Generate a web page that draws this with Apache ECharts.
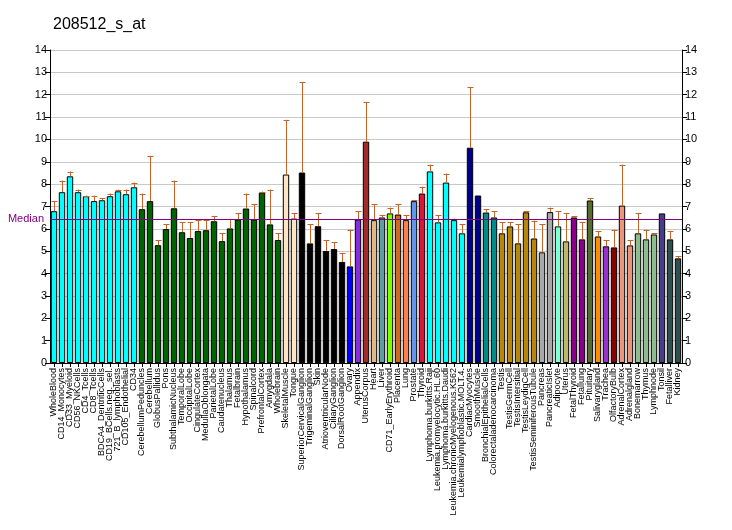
<!DOCTYPE html>
<html>
<head>
<meta charset="utf-8">
<script src="https://cdn.jsdelivr.net/npm/echarts@6/dist/echarts.min.js"></script>
<style>html,body{margin:0;padding:0;background:#fff;}#c{width:732px;height:530px;}</style>
</head>
<body>
<div id="c"></div>
<script>
const categories = ["WholeBlood","CD14_Monocytes","CD33_Myeloid","CD56_NKCells","CD4_Tcells","CD8_Tcells","BDCA4_DentriticCells","CD19_BCells.neg._sel.","721_B_lymphoblasts","CD105_Endothelial","CD34","CerebellumPeduncles","Cerebellum","GlobusPallidus","Pons","SubthalamicNucleus","TemporalLobe","OccipitalLobe","CingulateCortex","MedullaOblongata","ParietalLobe","Caudatenucleus","Thalamus","Fetalbrain","Hypothalamus","Spinalcord","PrefrontalCortex","Amygdala","Wholebrain","SkeletalMuscle","Tongue","SuperiorCervicalGanglion","TrigeminalGanglion","Skin","AtrioventricularNode","CiliaryGanglion","DorsalRootGanglion","Ovary","Appendix","UterusCorpus","Heart","Liver","CD71_EarlyErythroid","Placenta","Lung","Prostate","Thyroid","Lymphoma.burkitts.Raji","Leukemia.promyelocytic.HL.60","Lymphoma.burkitts.Daudi","Leukemia.chronicMyelogenous.K562","Leukemialymphoblastic.MOLT.4.","CardiacMyocytes","SmoothMuscle","BronchialEpithelialCells","Colorectaladenocarcinoma","Testis","TestisGermCell","TestisIntersitial","TestisLeydigCell","TestisSeminiferousTubule","Pancreas","PancreaticIslet","Adipocyte","Uterus","FetalThyroid","Fetallung","Pituitary","Salivarygland","Trachea","OlfactoryBulb","AdrenalCortex","Adrenalgland","Bonemarrow","Thymus","Lymphnode","Tonsil","Fetalliver","Kidney"];

const values = [6.79,7.64,8.35,7.64,7.46,7.24,7.28,7.46,7.68,7.55,7.86,6.88,7.24,5.27,5.99,6.92,5.85,5.59,5.90,5.94,6.34,5.45,6.02,6.42,6.91,6.42,7.62,6.20,5.50,8.43,6.46,8.52,5.35,6.12,5.01,5.10,4.52,4.32,6.42,9.90,6.39,6.51,6.69,6.64,6.39,7.24,7.58,8.57,6.29,8.07,6.39,5.80,9.63,7.49,6.73,6.51,5.80,6.11,5.35,6.74,5.57,4.95,6.75,6.11,5.44,6.51,5.53,7.27,5.66,5.22,5.17,7.04,5.26,5.80,5.53,5.75,6.69,5.53,4.68];

const errorTops = [7.25,8.16,8.56,7.76,7.49,7.49,7.36,7.58,7.76,7.76,8.07,7.58,9.27,5.50,6.20,8.16,6.30,6.30,6.39,6.39,6.58,5.80,6.45,6.69,7.58,7.09,7.67,7.76,5.80,10.88,6.69,12.57,6.20,6.69,5.50,5.39,4.90,5.97,6.78,11.68,7.09,6.60,6.95,7.09,6.60,7.28,7.89,8.87,6.60,8.47,6.46,6.20,12.35,null,6.87,6.78,6.29,6.29,6.20,6.78,6.37,6.20,6.95,6.78,6.69,6.58,6.29,7.36,5.89,5.48,5.97,8.87,5.48,6.69,5.97,5.80,null,5.89,4.77];

const barColors = ["#00FFFF","#00FFFF","#00FFFF","#00FFFF","#00FFFF","#00FFFF","#00FFFF","#00FFFF","#00FFFF","#00FFFF","#00FFFF",
"#006400","#006400","#006400","#006400","#006400","#006400","#006400","#006400","#006400","#006400","#006400","#006400","#006400","#006400","#006400","#006400","#006400","#006400",
"#FFE4C4","#FFE4C4",
"#000000","#000000","#000000","#000000","#000000","#000000",
"#0000FF","#8A2BE2","#A52A2A","#DEB887","#5F9EA0","#7FFF00","#D2691E","#FF7F50","#6495ED","#DC143C",
"#00FFFF","#00FFFF","#00FFFF","#00FFFF","#00FFFF",
"#00008B","#00008B","#008B8B","#008B8B",
"#B8860B","#B8860B","#B8860B","#B8860B","#B8860B",
"#A9A9A9","#A9A9A9","#7FFFD4","#BDB76B","#8B008B","#8B008B","#556B2F","#FF8C00","#9932CC","#8B0000","#E9967A","#E9967A",
"#8FBC8F","#8FBC8F","#8FBC8F","#483D8B","#2F4F4F","#2F4F4F"];

const yTicks = [0,1,2,3,4,5,6,7,8,9,10,11,12,13,14];
const medianValue = 6.42;
const titleText = "208512_s_at";

const FONT = "'Liberation Sans', Arial, sans-serif";
const chart = echarts.init(document.getElementById('c'), null, {renderer: 'canvas'});

const yAxisCommon = {
  type: 'value', min: yTicks[0], max: yTicks[yTicks.length-1], interval: 1,
  axisLine: {show: true, lineStyle: {color: '#000', width: 1}},
  axisTick: {show: true, length: 5, lineStyle: {color: '#000'}},
  axisLabel: {color: '#000', fontSize: 11, fontFamily: FONT, margin: 3},
  splitLine: {show: true, lineStyle: {color: '#c8c8c8', width: 1}}
};

chart.setOption({
  animation: false,
  backgroundColor: '#fff',
  title: {text: titleText, left: 48, top: 12, textStyle: {fontSize: 16, fontWeight: 'normal', color: '#000', fontFamily: FONT}},
  grid: {left: 50, right: 50, top: 50, bottom: 167, containLabel: false, outerBoundsMode: 'none'},
  xAxis: {
    type: 'category', data: categories,
    axisLine: {show: true, lineStyle: {color: '#000'}},
    axisTick: {show: true, alignWithLabel: true, length: 4, lineStyle: {color: '#000'}},
    axisLabel: {rotate: 90, interval: 0, fontSize: 9, color: '#000', fontFamily: FONT, margin: 5},
    splitLine: {show: false}
  },
  yAxis: [Object.assign({position: 'left'}, yAxisCommon), Object.assign({position: 'right'}, yAxisCommon, {splitLine: {show: false}})],
  series: [
    {
      type: 'bar', yAxisIndex: 0,
      data: values.map((v, i) => ({value: v, itemStyle: {color: barColors[i]}})),
      barCategoryGap: '20%',
      itemStyle: {borderColor: '#000', borderWidth: 1},
      markLine: {
        silent: true, symbol: 'none',
        lineStyle: {color: '#800080', width: 1, type: 'solid'},
        label: {show: true, position: 'start', formatter: 'Median', color: '#800080', fontSize: 11, fontFamily: FONT, distance: 6},
        data: [{yAxis: medianValue}]
      },
      z: 2
    },
    {
      type: 'custom', yAxisIndex: 0,
      data: values.map((v, i) => [i, v, errorTops[i]]),
      renderItem: function (params, api) {
        const top = api.value(2);
        if (top === null || isNaN(top)) return null;
        const p0 = api.coord([api.value(0), api.value(1)]);
        const p1 = api.coord([api.value(0), top]);
        const x = Math.round(p0[0]) + 0.5;
        return {
          type: 'group',
          children: [
            {type: 'line', shape: {x1: x, y1: p0[1], x2: x, y2: p1[1]}, style: {stroke: '#C8642A', lineWidth: 1}},
            {type: 'line', shape: {x1: x - 3, y1: Math.round(p1[1]) + 0.5, x2: x + 3, y2: Math.round(p1[1]) + 0.5}, style: {stroke: '#C8642A', lineWidth: 1}}
          ]
        };
      },
      z: 3
    }
  ]
});
</script>
</body>
</html>
